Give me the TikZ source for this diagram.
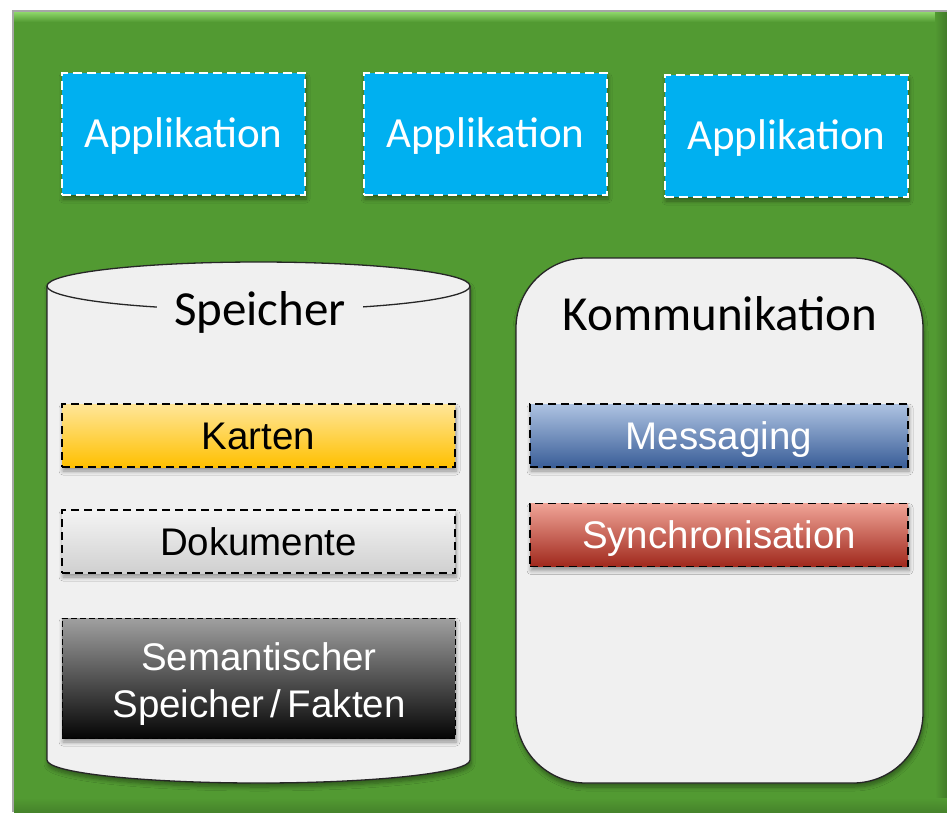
\documentclass[tikz,border=0pt]{standalone}
\usepackage{fontspec}
\setmainfont{Carlito}
\newfontfamily\arialfont{Liberation Sans}
\usetikzlibrary{shadows,shadows.blur}

\definecolor{bggreen}{HTML}{529A32}
\definecolor{bevelgreen}{HTML}{8ED66A}
\definecolor{appblue}{HTML}{00B0F0}
\definecolor{panelgray}{HTML}{F0F0F0}
\definecolor{goldtop}{HTML}{FFE699}
\definecolor{goldbot}{HTML}{FFC000}
\definecolor{docutop}{HTML}{F4F4F4}
\definecolor{docubot}{HTML}{D0D0D0}
\definecolor{semtop}{HTML}{A0A0A0}
\definecolor{sembot}{HTML}{050505}
\definecolor{msgtop}{HTML}{AEC3E2}
\definecolor{msgbot}{HTML}{3A5E98}
\definecolor{synctop}{HTML}{F0A497}
\definecolor{syncbot}{HTML}{A0281C}

\tikzset{
  softshadow/.style={blur shadow={shadow blur steps=6, shadow xshift=1pt,
      shadow yshift=-4pt, shadow opacity=40, shadow blur radius=4pt}},
  appbox/.style={draw=white, line width=1.6pt, dash pattern=on 9pt off 5pt,
      fill=appblue, minimum width=243pt, minimum height=122pt, inner sep=0pt,
      text=white, font=\fontsize{43}{48}\selectfont,
      text height=27.7pt, text depth=0pt, softshadow},
  layerbox/.style={draw=black, line width=1.4pt, dash pattern=on 8pt off 5pt,
      minimum height=63pt, inner sep=0pt, align=center,
      font=\arialfont\fontsize{38.5}{47}\selectfont,
      text height=27.6pt, text depth=0pt, softshadow},
  semline/.style={font=\arialfont\fontsize{38.5}{47}\selectfont, text=white,
      anchor=base, inner sep=0pt},
  paneltitle/.style={font=\fontsize{49}{54}\selectfont, inner sep=0pt}
}

\begin{document}
\begin{tikzpicture}[x=1pt, y=-1pt]
  \useasboundingbox (0,0) rectangle (947,812);
  \fill[white] (0,0) rectangle (947,812);

  % green backdrop with a light top bevel
  \fill[black!35] (12,10) rectangle (947,812);
  \fill[bggreen] (14,12) rectangle (947,812);
  \shade[top color=bevelgreen, bottom color=bggreen] (14,12) rectangle (947,22);
  \shade[left color=bggreen, right color=bggreen!80!black] (935,12) rectangle (947,812);
  \shade[top color=bggreen, bottom color=bggreen!85!black] (14,798) rectangle (947,812);

  % applications
  \node[appbox] (app1) at (183.5,134) {Applikation};
  \node[appbox] (app2) at (485.5,134) {Applikation};
  \node[appbox] (app3) at (786.5,136) {Applikation};

  % storage cylinder
  \path[fill=panelgray, draw=black!85, line width=1.3pt, softshadow]
    (47,286) -- (47,760)
    arc[start angle=180, end angle=360, x radius=211.5pt, y radius=23pt]
    -- (470,286)
    arc[start angle=0, end angle=180, x radius=211.5pt, y radius=24pt] -- cycle;
  \draw[black!85, line width=1.3pt] (47,286)
    arc[start angle=180, end angle=360, x radius=211.5pt, y radius=24pt];
  \node[paneltitle, fill=panelgray, inner xsep=17pt, anchor=base] (storetitle)
    at (260,325) {Speicher};

  % communication panel
  \node[draw=black!85, line width=1.3pt, fill=panelgray, rounded corners=70pt,
        minimum width=407pt, minimum height=525pt, inner sep=0pt, softshadow]
    (comm) at (719.5,520.5) {};
  \node[paneltitle, anchor=base] (commtitle) at (720,330) {Kommunikation};

  % storage layers
  \node[layerbox, minimum width=393pt, top color=goldtop, bottom color=goldbot]
    (karten) at (258.5,435.5) {Karten};
  \node[layerbox, minimum width=393pt, top color=docutop, bottom color=docubot]
    (doku) at (258.5,541.5) {Dokumente};
  \node[layerbox, minimum width=393pt, minimum height=120pt,
        top color=semtop, bottom color=sembot, dash pattern=on 6pt off 3pt,
        line width=1pt]
    (sem) at (258.5,678) {};
  \node[semline] (semline1) at (259,670) {Semantischer};
  \node[semline] (semline2) at (259,717) {Speicher\,/\,Fakten};

  % communication layers
  \node[layerbox, minimum width=378pt, text=white, top color=msgtop, bottom color=msgbot]
    (msg) at (719,435.5) {Messaging};
  \node[layerbox, minimum width=378pt, text=white, top color=synctop, bottom color=syncbot]
    (sync) at (719,535) {Synchronisation};
\end{tikzpicture}
\end{document}
